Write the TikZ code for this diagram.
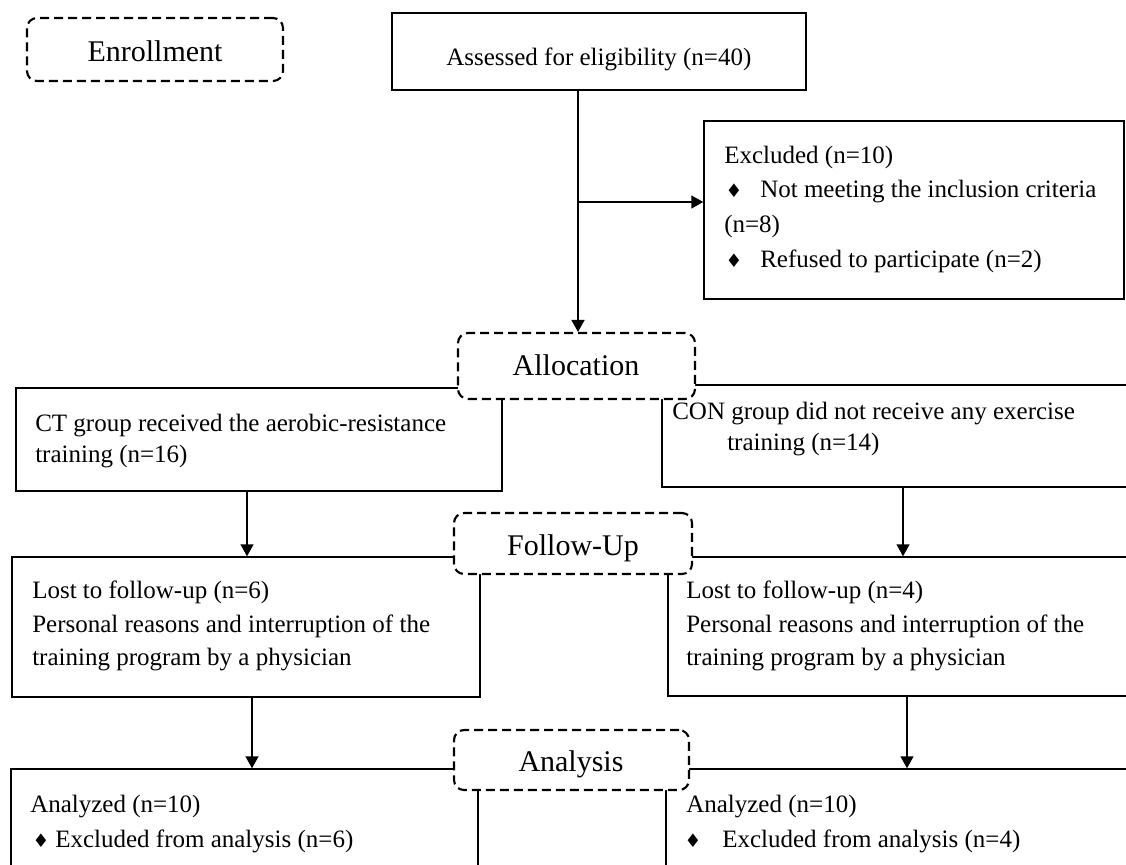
\documentclass[tikz,border=0pt]{standalone}
\usepackage{fontspec}
\setmainfont{Liberation Serif}
\newfontfamily\symfont{DejaVu Sans}
\usetikzlibrary{arrows.meta,fit}
\begin{document}
\begin{tikzpicture}[x=0.75pt,y=-0.75pt,
  box/.style={draw, line width=1.1pt, inner sep=0pt},
  stage/.style={draw, dash pattern=on 6.75pt off 3.75pt, line width=1.6pt, rounded corners=7.5pt, fill=white, inner sep=0pt},
  arr/.style={line width=1.1pt, -{Triangle[length=9pt,width=9.75pt]}},
  txt/.style={inner sep=0pt, anchor=base west, font=\fontsize{18.75}{22}\selectfont},
  head/.style={inner sep=0pt, anchor=base, font=\fontsize{22.5}{26}\selectfont},
  dia/.style={inner sep=0pt, anchor=base, font=\symfont\fontsize{14}{14}\selectfont}]
\clip (0,0) rectangle (1126,864);
% solid boxes
\node[box, fit={(392,13) (806,90)}] (assess) {};
\node[box, fit={(704,121) (1124,299)}] (excl) {};
\node[box, fit={(16,388) (502,491)}] (ct) {};
\node[box, fit={(662,385) (1140,487)}] (con) {};
\node[box, fit={(12,557) (480,697)}] (lostL) {};
\node[box, fit={(668,557) (1140,696)}] (lostR) {};
\node[box, fit={(11,769) (478,900)}] (anaL) {};
\node[box, fit={(666,769) (1140,900)}] (anaR) {};
% stage boxes
\node[stage, fit={(27,18) (283,81)}] (enrol) {};
\node[stage, fit={(458,333) (695,399)}] (alloc) {};
\node[stage, fit={(454,513) (692,574)}] (follow) {};
\node[stage, fit={(454,730) (689,790)}] (analysis) {};
% coordinates for connector lines
\coordinate (mainx) at (578,0);
\coordinate (branch) at (578,202);
\coordinate (ctx) at (247,0);
\coordinate (conx) at (903,0);
\coordinate (lostLx) at (252,0);
\coordinate (lostRx) at (907,0);
% connectors
\draw[arr] (assess.south -| mainx) -- (alloc.north -| mainx);
\draw[arr] (branch) -- (branch -| excl.west);
\draw[arr] (ct.south -| ctx) -- (lostL.north -| ctx);
\draw[arr] (con.south -| conx) -- (lostR.north -| conx);
\draw[arr] (lostL.south -| lostLx) -- (anaL.north -| lostLx);
\draw[arr] (lostR.south -| lostRx) -- (anaR.north -| lostRx);
% stage labels
\node[head] (tEnrol) at (155,61) {Enrollment};
\node[head] (tAlloc) at (576,375) {Allocation};
\node[head] (tFollow) at (573,555) {Follow-Up};
\node[head] (tAnalysis) at (571,771) {Analysis};
% box texts
\node[txt] (tAssess) at (446,65) {Assessed for eligibility (n=40)};
\node[txt] (tEx1) at (724,163) {Excluded (n=10)};
\node[dia] (dEx1) at (734,197) {♦};
\node[txt] (tEx2) at (760,197) {Not meeting the inclusion criteria};
\node[txt] (tEx3) at (724,232) {(n=8)};
\node[dia] (dEx2) at (734,267) {♦};
\node[txt] (tEx4) at (760,267) {Refused to participate (n=2)};
\node[txt] (tCt1) at (35,431) {CT group received the aerobic-resistance};
\node[txt] (tCt2) at (35,462) {training (n=16)};
\node[txt] (tCon1) at (672,419) {CON group did not receive any exercise};
\node[txt] (tCon2) at (727,450) {training (n=14)};
\node[txt] (tLL1) at (32,598) {Lost to follow-up (n=6)};
\node[txt] (tLL2) at (32,632) {Personal reasons and interruption of the};
\node[txt] (tLL3) at (32,665) {training program by a physician};
\node[txt] (tLR1) at (686,598) {Lost to follow-up (n=4)};
\node[txt] (tLR2) at (686,632) {Personal reasons and interruption of the};
\node[txt] (tLR3) at (686,665) {training program by a physician};
\node[txt] (tAL1) at (30,812) {Analyzed (n=10)};
\node[dia] (dAL) at (41,847) {♦};
\node[txt] (tAL2) at (55,847) {Excluded from analysis (n=6)};
\node[txt] (tAR1) at (686,812) {Analyzed (n=10)};
\node[dia] (dAR) at (693,847) {♦};
\node[txt] (tAR2) at (722,847) {Excluded from analysis (n=4)};
\end{tikzpicture}
\end{document}
